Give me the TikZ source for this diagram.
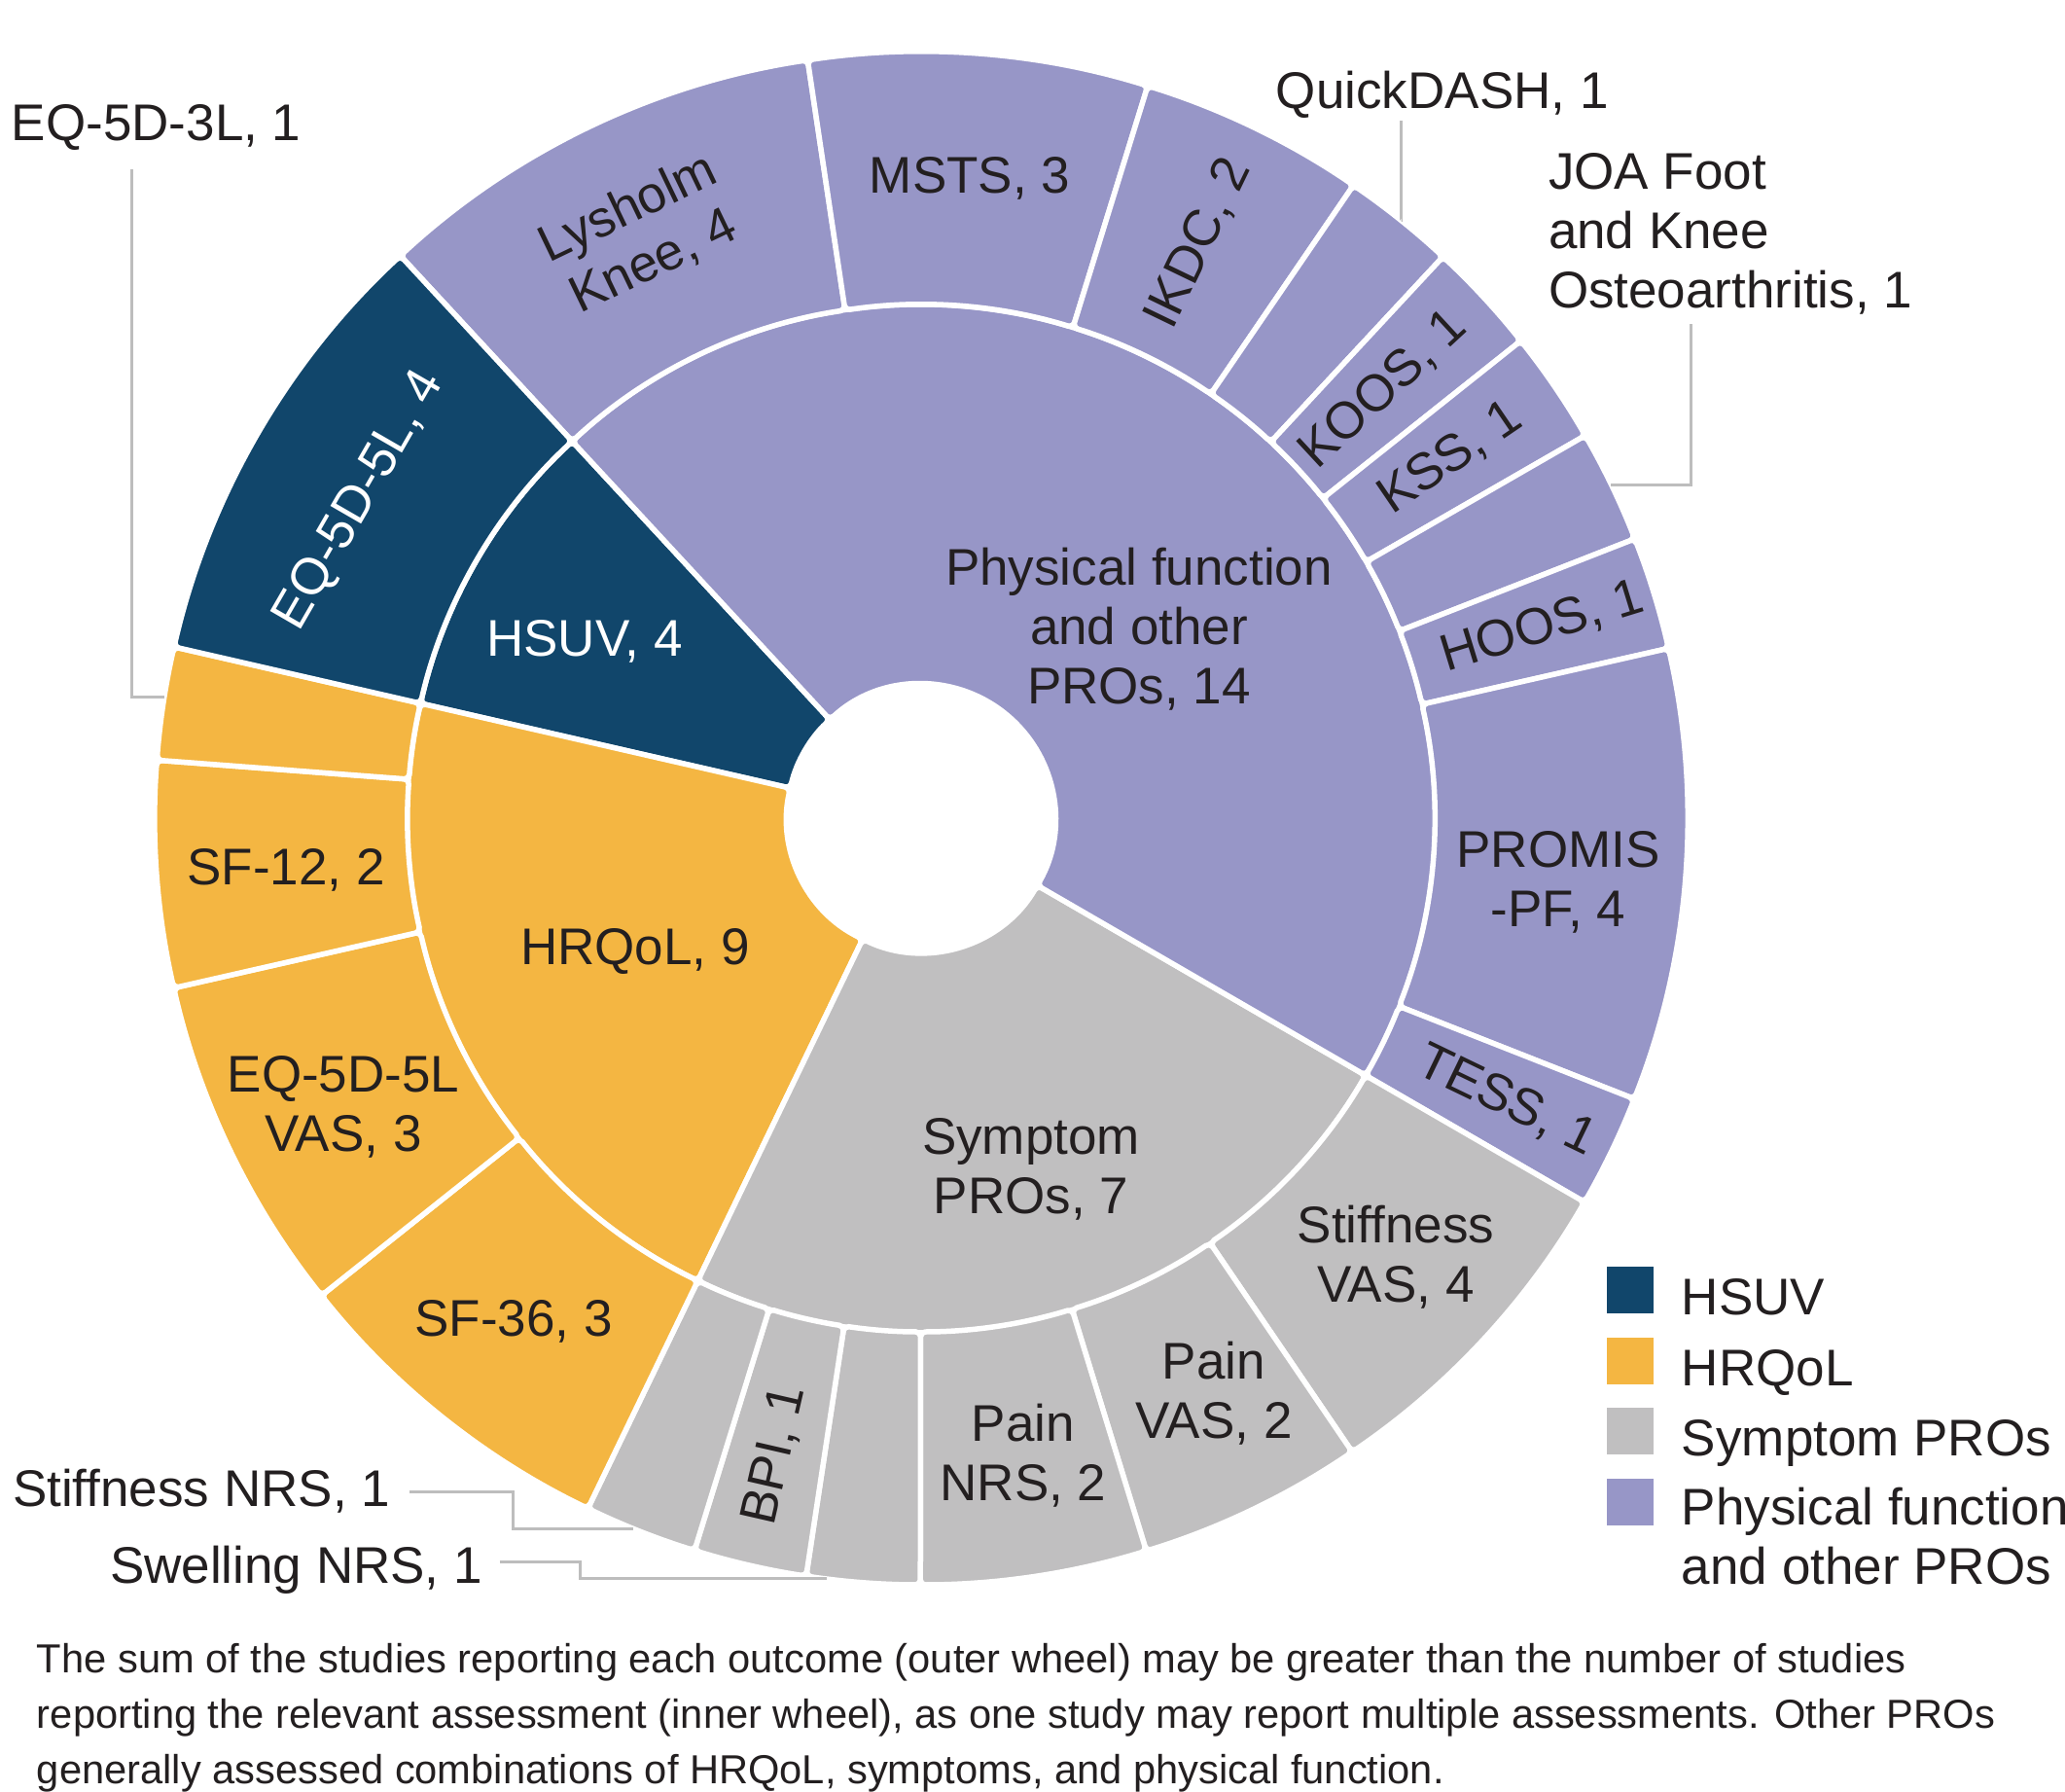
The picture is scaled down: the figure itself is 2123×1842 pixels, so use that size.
\documentclass[tikz,border=0pt]{standalone}
\usepackage{fontspec}
\setmainfont{Liberation Sans}
\usetikzlibrary{calc,positioning}

\definecolor{hsuvblue}{HTML}{11466B}
\definecolor{hrqolgold}{HTML}{F4B642}
\definecolor{sympgray}{HTML}{C0BFC0}
\definecolor{physlav}{HTML}{9796C7}
\definecolor{inkdark}{HTML}{231F20}
\definecolor{leadgray}{HTML}{BDBDBD}

\def\startang{132.8}
\def\unitang{8.5714}
\def\rhole{138}
\def\rmid{528}
\def\rout{788}

\tikzset{
  seg/.style={draw=white, line width=1.1pt, rounded corners=1pt},
  lbl/.style={font=\fontsize{10.6}{12.2}\selectfont, text=inkdark, inner sep=0pt, align=center},
  lblw/.style={lbl, text=white},
  leader/.style={draw=leadgray, line width=0.6pt},
  keybox/.style={minimum size=9.6pt, inner sep=0pt, anchor=south west},
  capt/.style={font=\fontsize{8.33}{11.4}\selectfont, text=inkdark, inner sep=0pt, align=left},
}

\newcommand{\ringpart}[5]{%
  \pgfmathsetmacro\angfrom{\startang-#3*\unitang}%
  \pgfmathsetmacro\angto{\startang-#4*\unitang}%
  \filldraw[seg, fill=#5] (\angfrom:#1) arc[start angle=\angfrom, end angle=\angto, radius=#1]
    -- (\angto:#2) arc[start angle=\angto, end angle=\angfrom, radius=#2] -- cycle;
}

\begin{document}
\begin{tikzpicture}[x=0.2pt, y=0.2pt]
\fill[white] (-947,-1001) rectangle (1176,841);
\useasboundingbox (-947,-1001) rectangle (1176,841);

\ringpart{\rhole}{\rmid}{38}{42}{hsuvblue}
\ringpart{\rhole}{\rmid}{29}{38}{hrqolgold}
\ringpart{\rhole}{\rmid}{19}{29}{sympgray}
\ringpart{\rhole}{\rmid}{0}{19}{physlav}

\foreach \ka/\kb/\col in {0/4/physlav, 4/7/physlav, 7/9/physlav, 9/10/physlav,
    10/11/physlav, 11/12/physlav, 12/13/physlav, 13/14/physlav, 14/18/physlav,
    18/19/physlav, 19/22/sympgray, 22/24/sympgray, 24/26/sympgray, 26/27/sympgray,
    27/28/sympgray, 28/29/sympgray, 29/32/hrqolgold, 32/35/hrqolgold,
    35/37/hrqolgold, 37/38/hrqolgold, 38/42/hsuvblue}
  \ringpart{\rmid}{\rout}{\ka}{\kb}{\col};

\node[lblw] (hsuv) at (-346,182) {HSUV, 4};
\node[lbl] (hrqol) at (-294,-137) {HRQoL, 9};
\node[lbl] (symptom) at (113,-361) {Symptom\\PROs, 7};
\node[lbl] (physical) at (224,194) {Physical function\\and other\\PROs, 14};

\node[lbl, rotate=25.66] (lysholm) at (115.66:665) {Lysholm\\Knee, 4};
\node[lbl] (msts) at (85.66:660) {MSTS, 3};
\node[lbl, rotate=64.23] (ikdc) at (64.23:656) {IKDC, 2};
\node[lbl, rotate=42.8] (koos) at (42.8:648) {KOOS, 1};
\node[lbl, rotate=34.23] (kss) at (34.23:658) {KSS, 1};
\node[lbl, rotate=17.09] (hoos) at (17.09:668) {HOOS, 1};
\node[lbl] (promis) at (655,-66) {PROMIS\\-PF, 4};
\node[lbl, rotate=-25.77] (tess) at (-25.77:668) {TESS, 1};
\node[lbl] (stiffvas) at (488,-451) {Stiffness\\VAS, 4};
\node[lbl] (painvas) at (301,-591) {Pain\\VAS, 2};
\node[lbl] (painnrs) at (105,-655) {Pain\\NRS, 2};
\node[lbl, rotate=77.1] (bpi) at (-102.9:672) {BPI, 1};
\node[lbl] (sf36) at (-419,-517) {SF-36, 3};
\node[lbl] (eqvas) at (-594,-297) {EQ-5D-5L\\VAS, 3};
\node[lbl] (sf12) at (-653,-53) {SF-12, 2};
\node[lblw, rotate=60] (eq5l) at (150.5:663) {EQ-5D-5L, 4};

\node[lbl, anchor=base west] (eq3l) at (-936,696) {EQ-5D-3L, 1};
\node[lbl, anchor=base west] (quickdash) at (364,729) {QuickDASH, 1};
\node[lbl, anchor=north west, align=left] (joa) at (644,685) {JOA Foot\\and Knee\\Osteoarthritis, 1};
\node[lbl, anchor=base east] (stiffnrs) at (-545,-707) {Stiffness NRS, 1};
\node[lbl, anchor=base east] (swellnrs) at (-450,-786) {Swelling NRS, 1};

\coordinate (eq3lend) at (170.9:\rout);
\coordinate (qdend) at (51.2:\rout);
\coordinate (joaend) at (25.8:\rout);
\coordinate (stnrsend) at (-112.1:\rout);
\coordinate (swnrsend) at (-97.08:\rout);
\draw[leader] ($(eq3l.base west)+(125,-29)$) |- (eq3lend);
\draw[leader] ($(quickdash.base west)+(130,-12)$) |- (qdend);
\draw[leader] ($(joa.north west)+(147,-177)$) |- (joaend);
\draw[leader] ($(stiffnrs.base east)+(19,15)$) -- ++(107,0) |- (stnrsend);
\draw[leader] ($(swellnrs.base east)+(17,22)$) -- ++(83,0) |- (swnrsend);

\node[keybox, fill=hsuvblue] (keyhsuv) at (704,-510) {};
\node[keybox, fill=hrqolgold] (keyhrqol) at (704,-583) {};
\node[keybox, fill=sympgray] (keysymp) at (704,-655) {};
\node[keybox, fill=physlav] (keyphys) at (704,-728) {};
\node[lbl, anchor=base west] (txthsuv) at ($(keyhsuv.south east)+(27,0)$) {HSUV};
\node[lbl, anchor=base west] (txthrqol) at ($(keyhrqol.south east)+(27,0)$) {HRQoL};
\node[lbl, anchor=base west] (txtsymp) at ($(keysymp.south east)+(27,0)$) {Symptom PROs};
\node[lbl, anchor=north west, align=left] (txtphys) at ($(keyphys.north east)+(27,-9)$) {Physical function\\and other PROs};

\node[capt, anchor=north west] (note) at (-910,-847) {The sum of the studies reporting each outcome (outer wheel) may be greater than the number of studies\\reporting the relevant assessment (inner wheel), as one study may report multiple assessments. Other PROs\\generally assessed combinations of HRQoL, symptoms, and physical function.};
\end{tikzpicture}
\end{document}
